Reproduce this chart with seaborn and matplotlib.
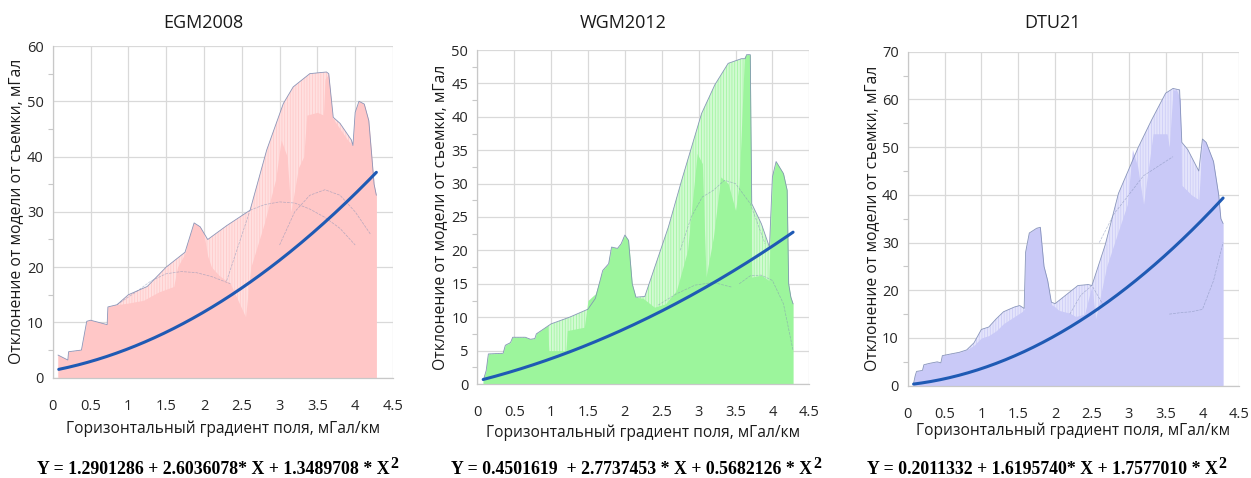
import numpy as np
import matplotlib
matplotlib.use("Agg")
import matplotlib.pyplot as plt
import seaborn as sns
from matplotlib.ticker import MultipleLocator, FuncFormatter

sns.set_theme(style="white")
plt.rcParams['font.family'] = ['Open Sans', 'DejaVu Sans']
plt.rcParams['hatch.linewidth'] = 0.5

# ---------------- EGM2008 ----------------
egm_solid_x = [0.07, 0.07, 0.20, 0.21, 0.38, 0.40, 0.45, 0.50, 0.72, 0.73, 0.85, 1.00, 1.20, 1.40,
               1.60, 1.65, 1.75, 1.82, 1.87, 1.95, 2.00, 2.05, 2.10, 2.20, 2.30, 2.35, 2.45, 2.55,
               2.62, 2.80, 2.95, 3.02, 3.10, 3.15, 3.25, 3.32, 3.36, 3.50, 3.58, 3.60, 3.65, 3.70,
               3.80, 3.90, 3.97, 4.00, 4.05, 4.12, 4.18, 4.22, 4.25, 4.28, 4.28]
egm_solid_y = [0, 4.1, 3.2, 4.7, 5.0, 6.5, 10.2, 10.4, 9.6, 12.8, 13.2, 13.5, 14.0, 15.5,
               16.5, 20.0, 22.5, 26.0, 28.0, 27.3, 26.0, 22.0, 20.0, 18.5, 17.5, 17.0, 14.0, 11.0,
               20.0, 28.0, 36.0, 43.0, 40.0, 30.0, 38.0, 40.0, 47.5, 48.0, 47.5, 54.0, 55.0, 47.0,
               45.0, 43.0, 42.0, 48.0, 50.0, 49.5, 46.5, 40.0, 35.0, 33.0, 0]
egm_env_x = [0.07, 0.07, 0.20, 0.21, 0.38, 0.40, 0.45, 0.50, 0.72, 0.73, 0.85, 1.00, 1.25, 1.50,
             1.75, 1.87, 1.95, 2.05, 2.30, 2.61, 2.83, 3.05, 3.18, 3.40, 3.62, 3.65, 3.71, 3.80,
             3.95, 3.97, 4.00, 4.05, 4.12, 4.18, 4.22, 4.25, 4.28, 4.28]
egm_env_y = [0, 4.1, 3.2, 4.7, 5.0, 6.5, 10.2, 10.4, 9.6, 12.8, 13.2, 15.0, 16.5, 20.0,
             22.7, 28.0, 27.3, 25.0, 27.5, 30.3, 41.2, 49.6, 52.6, 55.0, 55.3, 55.0, 47.1, 46.0,
             43.0, 42.0, 48.0, 50.0, 49.5, 46.5, 40.0, 35.0, 33.0, 0]
egm_arcs = [
    ([0.85, 1.10, 1.30, 1.50, 1.70, 1.90, 2.10, 2.35], [13.2, 15.5, 17.5, 18.8, 19.2, 19.0, 18.3, 17.0]),
    ([2.30, 2.61], [17.5, 30.3]),
    ([2.61, 2.80, 3.00, 3.20, 3.40, 3.60, 3.80, 4.00], [30.3, 31.3, 31.8, 31.6, 30.5, 29.0, 27.0, 24.0]),
    ([3.00, 3.20, 3.40, 3.60, 3.80, 4.00, 4.20], [24.0, 30.0, 33.0, 34.0, 33.0, 30.0, 26.0]),
]
egm_coef = [1.2901286, 2.6036078, 1.3489708]
egm_eq = "Y = 1.2901286 + 2.6036078* X + 1.3489708 * X"

# ---------------- WGM2012 ----------------
wgm_solid_x = [0.08, 0.08, 0.12, 0.15, 0.35, 0.38, 0.45, 0.48, 0.65, 0.72, 0.78, 0.80, 0.95, 0.97,
               1.20, 1.22, 1.45, 1.50, 1.60, 1.70, 1.78, 1.82, 1.90, 1.95, 2.00, 2.05, 2.10, 2.15,
               2.25, 2.40, 2.55, 2.70, 2.85, 2.98, 3.05, 3.10, 3.20, 3.30, 3.40, 3.50, 3.55, 3.62,
               3.65, 3.70, 3.72, 3.85, 3.95, 4.00, 4.05, 4.15, 4.20, 4.22, 4.25, 4.28, 4.28]
wgm_solid_y = [0, 0.5, 2.0, 4.5, 4.6, 5.8, 6.2, 7.0, 7.0, 6.7, 6.8, 7.5, 8.7, 5.0,
               5.0, 8.0, 8.5, 12.5, 13.5, 17.0, 18.0, 20.5, 20.3, 21.0, 22.3, 21.5, 15.0, 13.0,
               12.8, 11.5, 12.0, 14.0, 20.0, 34.5, 33.0, 16.0, 22.0, 31.0, 30.0, 26.0, 30.0, 49.0,
               49.3, 49.3, 16.0, 16.3, 15.5, 31.0, 33.3, 31.5, 29.0, 15.0, 13.0, 12.0, 0]
wgm_env_x = [0.08, 0.08, 0.12, 0.15, 0.35, 0.38, 0.45, 0.48, 0.65, 0.72, 0.78, 0.80, 1.00, 1.25,
             1.50, 1.60, 1.70, 1.78, 1.82, 1.90, 1.95, 2.00, 2.05, 2.10, 2.15, 2.27, 2.59, 2.77,
             3.04, 3.22, 3.40, 3.58, 3.63, 3.65, 3.70, 3.72, 3.85, 3.96, 4.00, 4.05, 4.15, 4.20,
             4.22, 4.25, 4.28, 4.28]
wgm_env_y = [0, 0.5, 2.0, 4.5, 4.6, 5.8, 6.2, 7.0, 7.0, 6.7, 6.8, 7.5, 9.0, 10.0,
             11.2, 12.8, 17.0, 18.0, 20.5, 20.3, 21.0, 22.3, 21.5, 15.0, 13.0, 13.1, 23.5, 30.5,
             40.5, 44.8, 48.0, 48.7, 48.7, 49.3, 49.3, 27.0, 24.0, 20.5, 31.0, 33.3, 31.5, 29.0,
             15.0, 13.0, 12.0, 0]
wgm_arcs = [
    ([2.45, 2.70, 2.95, 3.20, 3.45], [11.8, 13.5, 14.8, 15.2, 14.5]),
    ([3.55, 3.70, 3.85, 4.00, 4.15, 4.28], [15.0, 16.2, 16.3, 15.5, 12.0, 5.0]),
    ([2.75, 2.90, 3.05, 3.20, 3.35, 3.50, 3.70, 3.90], [20.0, 25.0, 28.0, 29.0, 30.5, 30.0, 27.0, 21.0]),
]
wgm_coef = [0.4501619, 2.7737453, 0.5682126]
wgm_eq = "Y = 0.4501619  + 2.7737453 * X + 0.5682126 * X"

# ---------------- DTU21 ----------------
dtu_solid_x = [0.08, 0.08, 0.10, 0.12, 0.20, 0.22, 0.30, 0.40, 0.45, 0.47, 0.60, 0.70, 0.80, 0.90,
               1.00, 1.10, 1.20, 1.30, 1.45, 1.55, 1.58, 1.60, 1.65, 1.75, 1.80, 1.85, 1.90, 1.95,
               2.00, 2.05, 2.20, 2.28, 2.40, 2.50, 2.55, 2.70, 2.85, 2.98, 3.05, 3.12, 3.20, 3.33,
               3.52, 3.55, 3.60, 3.65, 3.70, 3.72, 3.85, 3.95, 4.00, 4.05, 4.15, 4.22, 4.25, 4.28, 4.28]
dtu_solid_y = [0, 0.5, 2.0, 3.0, 3.2, 4.4, 4.7, 5.0, 4.8, 6.3, 6.7, 7.0, 7.5, 8.5,
               10.0, 10.5, 11.5, 13.0, 14.5, 15.5, 16.0, 28.0, 32.0, 33.0, 33.2, 25.0, 22.0, 17.0,
               16.5, 15.8, 15.2, 14.5, 15.0, 21.0, 14.0, 25.0, 32.0, 38.0, 49.5, 46.0, 38.0, 52.8,
               52.8, 50.0, 62.0, 62.0, 60.0, 42.0, 40.0, 39.0, 51.7, 51.0, 47.0, 40.0, 35.0, 34.0, 0]
dtu_env_x = [0.08, 0.08, 0.10, 0.12, 0.20, 0.22, 0.30, 0.40, 0.45, 0.47, 0.60, 0.70, 0.80, 0.90,
             1.00, 1.10, 1.20, 1.30, 1.45, 1.52, 1.58, 1.60, 1.65, 1.75, 1.80, 1.85, 1.90, 1.95,
             2.00, 2.31, 2.45, 2.50, 2.68, 2.86, 3.13, 3.31, 3.50, 3.60, 3.69, 3.72, 3.80, 3.95,
             4.00, 4.05, 4.15, 4.22, 4.25, 4.28, 4.28]
dtu_env_y = [0, 0.5, 2.0, 3.0, 3.2, 4.4, 4.7, 5.0, 4.8, 6.3, 6.7, 7.0, 7.5, 9.0,
             11.8, 12.3, 14.0, 15.5, 16.5, 16.8, 16.2, 28.0, 32.0, 33.0, 33.2, 25.0, 22.0, 17.5,
             17.2, 21.0, 21.2, 21.0, 29.5, 40.3, 50.0, 55.7, 61.3, 62.3, 62.0, 51.0, 49.5, 45.0,
             51.7, 51.0, 47.0, 40.0, 35.0, 34.0, 0]
dtu_arcs = [
    ([2.60, 2.80, 3.00, 3.20, 3.40, 3.60], [30.0, 36.0, 40.0, 44.0, 46.0, 48.0]),
    ([2.20, 2.35, 2.50, 2.65], [15.0, 19.0, 21.0, 17.0]),
    ([3.55, 3.70, 3.85, 4.00, 4.15, 4.28], [15.0, 15.3, 15.5, 16.0, 22.0, 30.0]),
]
dtu_coef = [0.2011332, 1.6195740, 1.7577010]
dtu_eq = "Y = 0.2011332 + 1.6195740* X + 1.7577010 * X"

titles = ["EGM2008", "WGM2012", "DTU21"]
y_max = [60, 50, 70]
y_step = [10, 5, 10]
solid_cols = ["#FFC7C7", "#9CF59C", "#C9C9F7"]
light_cols = ["#FFE0E0", "#D2FAD2", "#E4E4FB"]
fit_x_range = (0.08, 4.28)
ylabel = "Отклонение от модели от съемки, мГал"
xlabel = "Горизонтальный градиент поля, мГал/км"

panels = [
    (egm_solid_x, egm_solid_y, egm_env_x, egm_env_y, egm_arcs, egm_coef, egm_eq),
    (wgm_solid_x, wgm_solid_y, wgm_env_x, wgm_env_y, wgm_arcs, wgm_coef, wgm_eq),
    (dtu_solid_x, dtu_solid_y, dtu_env_x, dtu_env_y, dtu_arcs, dtu_coef, dtu_eq),
]

W, H = 1251, 478
fig = plt.figure(figsize=(W / 100, H / 100), dpi=100)
fig.patch.set_facecolor("white")

# axes boxes in pixels: left, right, top, bottom
boxes = [(52.7, 393.0, 46.0, 377.7), (477.3, 809.3, 50.0, 384.0), (907.7, 1239.3, 51.7, 385.7)]
title_cx = [203, 623, 1053]
ylab_cx = [16, 440, 872]
xlab_y = [429, 433, 431]
eq_cx = [218.5, 637, 1047]

outline_col = "#7F8DB4"
fit_col = "#1F5AB4"
fmt = FuncFormatter(lambda v, p: f"{v:g}")
eq_texts = []

for i, (sx, sy, ex, ey, arcs, coef, eq) in enumerate(panels):
    l, r, t, b = boxes[i]
    ax = fig.add_axes([l / W, (H - b) / H, (r - l) / W, (b - t) / H])
    ax.set_xlim(0, 4.5)
    ax.set_ylim(0, y_max[i])
    ax.set_axisbelow(True)
    ax.grid(True, which="major", color="#D9D9D9", lw=0.9)
    for s in ["top", "right"]:
        ax.spines[s].set_visible(False)
    for s in ["left", "bottom"]:
        ax.spines[s].set_color("#C8C8C8")
        ax.spines[s].set_linewidth(0.9)

    # striped band between the solid profile and the outer envelope
    ax.fill_between(ex, ey, 0, facecolor=light_cols[i], edgecolor=solid_cols[i],
                    hatch="||||||", linewidth=0, zorder=1)
    ax.fill_between(sx, sy, 0, color=solid_cols[i], linewidth=0, zorder=2)
    ax.plot(ex[1:-1], ey[1:-1], color=outline_col, lw=0.6, alpha=0.9, zorder=3)
    for axx, ayy in arcs:
        ax.plot(axx, ayy, color=outline_col, lw=0.5, alpha=0.55, ls=(0, (4, 1.5)), zorder=3)

    # quadratic fit from the stated coefficients
    xs = np.linspace(fit_x_range[0], fit_x_range[1], 200)
    ys = coef[0] + coef[1] * xs + coef[2] * xs ** 2
    sns.lineplot(x=xs, y=ys, ax=ax, color=fit_col, lw=2.2, zorder=4)

    ax.xaxis.set_major_locator(MultipleLocator(0.5))
    ax.yaxis.set_major_locator(MultipleLocator(y_step[i]))
    ax.yaxis.set_minor_locator(MultipleLocator(y_step[i] / 2))
    ax.xaxis.set_major_formatter(fmt)
    ax.yaxis.set_major_formatter(fmt)
    ax.tick_params(axis="x", which="major", labelsize=10.5, colors="#C8C8C8",
                   labelcolor="#262626", length=3.5, width=0.8, pad=11.5)
    ax.tick_params(axis="y", which="major", labelsize=10.5, colors="#C8C8C8",
                   labelcolor="#262626", length=3.5, width=0.8, pad=3)
    ax.tick_params(axis="y", which="minor", length=3.5, width=0.8, colors="#C8C8C8", left=True)
    ax.set_xlabel("")
    ax.set_ylabel("")

    fig.text(title_cx[i] / W, 1 - 23 / H, titles[i], ha="center", va="center",
             fontsize=13, color="#1a1a1a")
    fig.text(ylab_cx[i] / W, 1 - ((t + b) / 2) / H, ylabel, rotation=90, ha="center",
             va="center", fontsize=11.3, color="#1a1a1a")
    fig.text((l + r) / 2 / W, 1 - xlab_y[i] / H, xlabel, ha="center", va="center",
             fontsize=11.2, color="#1a1a1a")
    et = fig.text((eq_cx[i] - 5) / W, 1 - 469 / H, eq, ha="center", va="center",
                  fontsize=12.8, fontfamily="Liberation Serif", fontweight="bold", color="black")
    eq_texts.append(et)

# raised exponent placed right after each equation
fig.canvas.draw()
renderer = fig.canvas.get_renderer()
for et in eq_texts:
    bb = et.get_window_extent(renderer)
    fig.text((bb.x1 + 1) / W, (bb.y1 + 4) / H, "2", ha="left", va="top",
             fontsize=11.5, fontfamily="Liberation Serif", fontweight="bold", color="black")

fig.savefig("out.png", dpi=100, facecolor="white")
